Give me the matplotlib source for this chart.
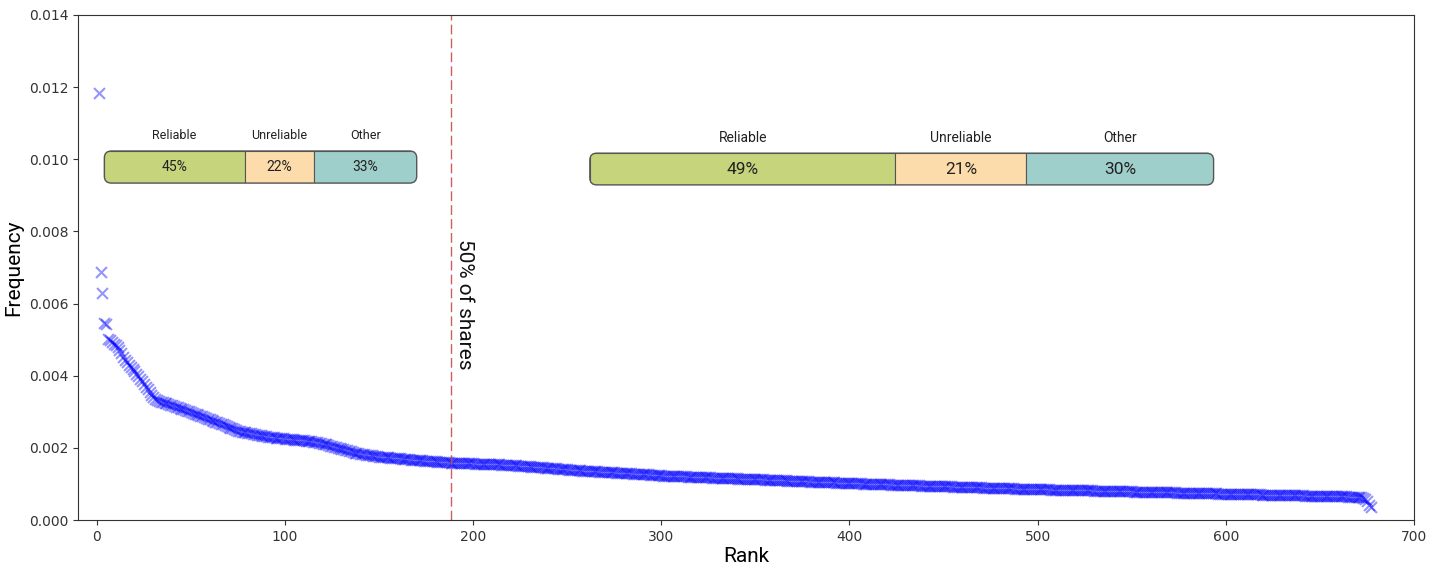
import matplotlib
matplotlib.use('Agg')
import matplotlib.pyplot as plt
from matplotlib.patches import FancyBboxPatch, Rectangle

# frequency of each rank, in units of 1e-6
freq_e6 = [
    11830, 6880, 6290, 5450, 5440, 5020, 4990, 4940, 4880, 4850,
    4790, 4700, 4620, 4530, 4440, 4370, 4310, 4240, 4180, 4120,
    4060, 3990, 3920, 3850, 3780, 3700, 3620, 3540, 3460, 3400,
    3350, 3320, 3300, 3280, 3260, 3240, 3230, 3210, 3200, 3180,
    3160, 3140, 3120, 3100, 3090, 3070, 3050, 3030, 3010, 2990,
    2970, 2950, 2930, 2910, 2890, 2870, 2850, 2830, 2810, 2790,
    2770, 2750, 2730, 2710, 2690, 2670, 2650, 2630, 2610, 2590,
    2560, 2540, 2520, 2500, 2480, 2470, 2450, 2440, 2430, 2420,
    2410, 2400, 2390, 2380, 2370, 2360, 2350, 2340, 2330, 2320,
    2310, 2305, 2300, 2290, 2285, 2280, 2270, 2265, 2260, 2255,
    2250, 2245, 2240, 2235, 2230, 2225, 2220, 2215, 2210, 2205,
    2200, 2195, 2190, 2180, 2170, 2160, 2150, 2140, 2130, 2120,
    2110, 2095, 2080, 2065, 2050, 2035, 2020, 2005, 1990, 1975,
    1960, 1945, 1930, 1915, 1900, 1885, 1870, 1860, 1850, 1840,
    1830, 1820, 1810, 1800, 1795, 1790, 1780, 1775, 1770, 1760,
    1755, 1750, 1745, 1740, 1735, 1730, 1725, 1720, 1715, 1710,
    1705, 1700, 1695, 1690, 1685, 1680, 1676, 1672, 1668, 1664,
    1660, 1656, 1652, 1648, 1644, 1640, 1636, 1632, 1628, 1624,
    1620, 1616, 1612, 1608, 1604, 1600, 1597, 1594, 1591, 1588,
    1585, 1583, 1581, 1579, 1577, 1575, 1573, 1571, 1569, 1567,
    1565, 1563, 1561, 1559, 1557, 1555, 1553, 1551, 1549, 1547,
    1545, 1543, 1541, 1539, 1537, 1535, 1532, 1529, 1526, 1523,
    1520, 1516, 1512, 1508, 1504, 1500, 1496, 1492, 1488, 1484,
    1480, 1476, 1472, 1468, 1464, 1460, 1456, 1452, 1448, 1444,
    1440, 1436, 1432, 1428, 1424, 1420, 1416, 1412, 1408, 1404,
    1400, 1396, 1392, 1388, 1384, 1380, 1376, 1372, 1368, 1364,
    1360, 1357, 1354, 1351, 1348, 1345, 1342, 1339, 1336, 1333,
    1330, 1327, 1324, 1321, 1318, 1315, 1312, 1309, 1306, 1303,
    1300, 1297, 1294, 1291, 1288, 1285, 1282, 1279, 1276, 1273,
    1270, 1266, 1262, 1258, 1254, 1250, 1246, 1242, 1238, 1234,
    1231, 1228, 1226, 1224, 1222, 1220, 1218, 1216, 1214, 1212,
    1210, 1208, 1206, 1204, 1202, 1200, 1198, 1196, 1194, 1192,
    1190, 1188, 1186, 1184, 1182, 1180, 1178, 1176, 1174, 1172,
    1170, 1168, 1166, 1164, 1162, 1160, 1158, 1156, 1154, 1152,
    1150, 1148, 1146, 1144, 1142, 1140, 1138, 1136, 1134, 1132,
    1130, 1128, 1126, 1124, 1122, 1120, 1118, 1116, 1114, 1112,
    1110, 1108, 1106, 1103, 1100, 1097, 1094, 1091, 1088, 1085,
    1082, 1080, 1078, 1076, 1074, 1072, 1070, 1068, 1066, 1064,
    1062, 1060, 1058, 1056, 1054, 1052, 1050, 1048, 1046, 1044,
    1042, 1040, 1038, 1036, 1034, 1032, 1030, 1028, 1026, 1024,
    1022, 1020, 1018, 1016, 1015, 1013, 1011, 1009, 1007, 1005,
    1004, 1002, 1000, 998, 996, 994, 993, 991, 989, 987,
    986, 984, 982, 980, 979, 977, 975, 973, 972, 970,
    968, 966, 965, 963, 961, 959, 958, 956, 954, 952,
    951, 949, 947, 946, 944, 942, 940, 939, 937, 935,
    934, 932, 930, 929, 927, 925, 924, 922, 920, 919,
    917, 915, 914, 912, 910, 909, 907, 905, 904, 902,
    900, 899, 897, 895, 894, 892, 890, 889, 887, 885,
    884, 882, 881, 879, 877, 876, 874, 873, 871, 869,
    868, 866, 865, 863, 862, 860, 859, 857, 856, 854,
    853, 852, 850, 849, 848, 847, 845, 844, 843, 842,
    840, 839, 838, 837, 835, 834, 833, 832, 830, 829,
    828, 827, 825, 824, 823, 822, 820, 819, 818, 817,
    815, 814, 813, 812, 810, 809, 808, 807, 805, 804,
    803, 802, 800, 799, 798, 797, 795, 794, 793, 792,
    790, 789, 788, 787, 785, 784, 783, 782, 780, 779,
    778, 777, 775, 774, 773, 772, 770, 769, 768, 767,
    765, 764, 763, 762, 760, 759, 758, 757, 755, 754,
    753, 752, 750, 749, 748, 747, 745, 744, 743, 742,
    740, 739, 738, 737, 735, 734, 733, 732, 730, 729,
    728, 727, 726, 724, 723, 722, 721, 720, 718, 717,
    716, 715, 714, 712, 711, 710, 709, 708, 706, 705,
    704, 703, 702, 700, 699, 698, 697, 696, 694, 693,
    692, 691, 690, 688, 687, 686, 685, 684, 682, 681,
    680, 679, 678, 676, 675, 674, 673, 672, 670, 669,
    668, 667, 666, 664, 663, 662, 661, 660, 658, 657,
    656, 655, 654, 652, 651, 649, 647, 645, 642, 639,
    635, 628, 615, 590, 520, 420, 350,
]
ranks = list(range(1, len(freq_e6) + 1))
freq = [v * 1e-6 for v in freq_e6]

half_rank = 188  # rank where 50% of shares is reached

seg_labels = ['Reliable', 'Unreliable', 'Other']
head_shares = [45, 22, 33]   # ranks before the 50% line
tail_shares = [49, 21, 30]   # ranks after the 50% line
seg_colors = ['#c6d47c', '#fddcab', '#9fcfcb']

txt_font = ['Roboto', 'DejaVu Sans']

fig = plt.figure(figsize=(14.39, 5.69), dpi=100)
ax = fig.add_axes([78 / 1439, 1 - 520 / 569, (1414 - 78) / 1439, (520 - 15) / 569])

ax.scatter(ranks, freq, marker='x', s=62, color='blue', alpha=0.42, linewidths=1.5)
ax.axvline(half_rank, color='#c0504d', lw=1, dashes=(7, 3), alpha=0.9)
ax.text(half_rank + 2.5, 0.00778, '50% of shares', rotation=270, ha='left', va='top',
        fontsize=15, family=txt_font, color='#111111')

ax.set_xlim(-10, 700)
ax.set_ylim(0, 0.014)
ax.set_yticks([0.000, 0.002, 0.004, 0.006, 0.008, 0.010, 0.012, 0.014])
ax.yaxis.set_major_formatter(matplotlib.ticker.FormatStrFormatter('%.3f'))
ax.tick_params(labelsize=10, colors='#333333')
for sp in ax.spines.values():
    sp.set_color('#333333')
ax.set_xlabel('Rank', fontsize=15, family=txt_font, labelpad=2)
ax.set_ylabel('Frequency', fontsize=15, family=txt_font, labelpad=4)


def share_bar(bounds, shares, pct_size, lab_size, w_px, h_px):
    bax = ax.inset_axes(bounds, transform=ax.transData)
    bax.set_xlim(0, 100)
    bax.set_ylim(0, 1)
    bax.axis('off')
    r_px = 7
    outline = FancyBboxPatch((0, 0), 100, 1,
                             boxstyle=f'round,pad=0,rounding_size={r_px * 100 / w_px}',
                             mutation_aspect=w_px / (100 * h_px),
                             facecolor='none', edgecolor='#555555', lw=1, zorder=3,
                             clip_on=False)
    bax.add_patch(outline)
    left = 0
    for lab, sh, col in zip(seg_labels, shares, seg_colors):
        rect = Rectangle((left, 0), sh, 1, facecolor=col, edgecolor='#555555', lw=0.8,
                         clip_on=True)
        bax.add_patch(rect)
        rect.set_clip_path(outline)
        c = left + sh / 2
        bax.text(c, 0.5, f'{sh}%', ha='center', va='center', fontsize=pct_size,
                 family=txt_font, color='#222222')
        bax.text(c, 1.0 + 15 / h_px, lab, ha='center', va='center', fontsize=lab_size,
                 family=txt_font, color='#222222')
        left += sh


share_bar([4, 0.00934, 166, 0.00089], head_shares, 10, 9, 313, 32)
share_bar([262, 0.00929, 331.5, 0.00088], tail_shares, 12.5, 10, 624, 32)

fig.savefig('out.png', dpi=100)
